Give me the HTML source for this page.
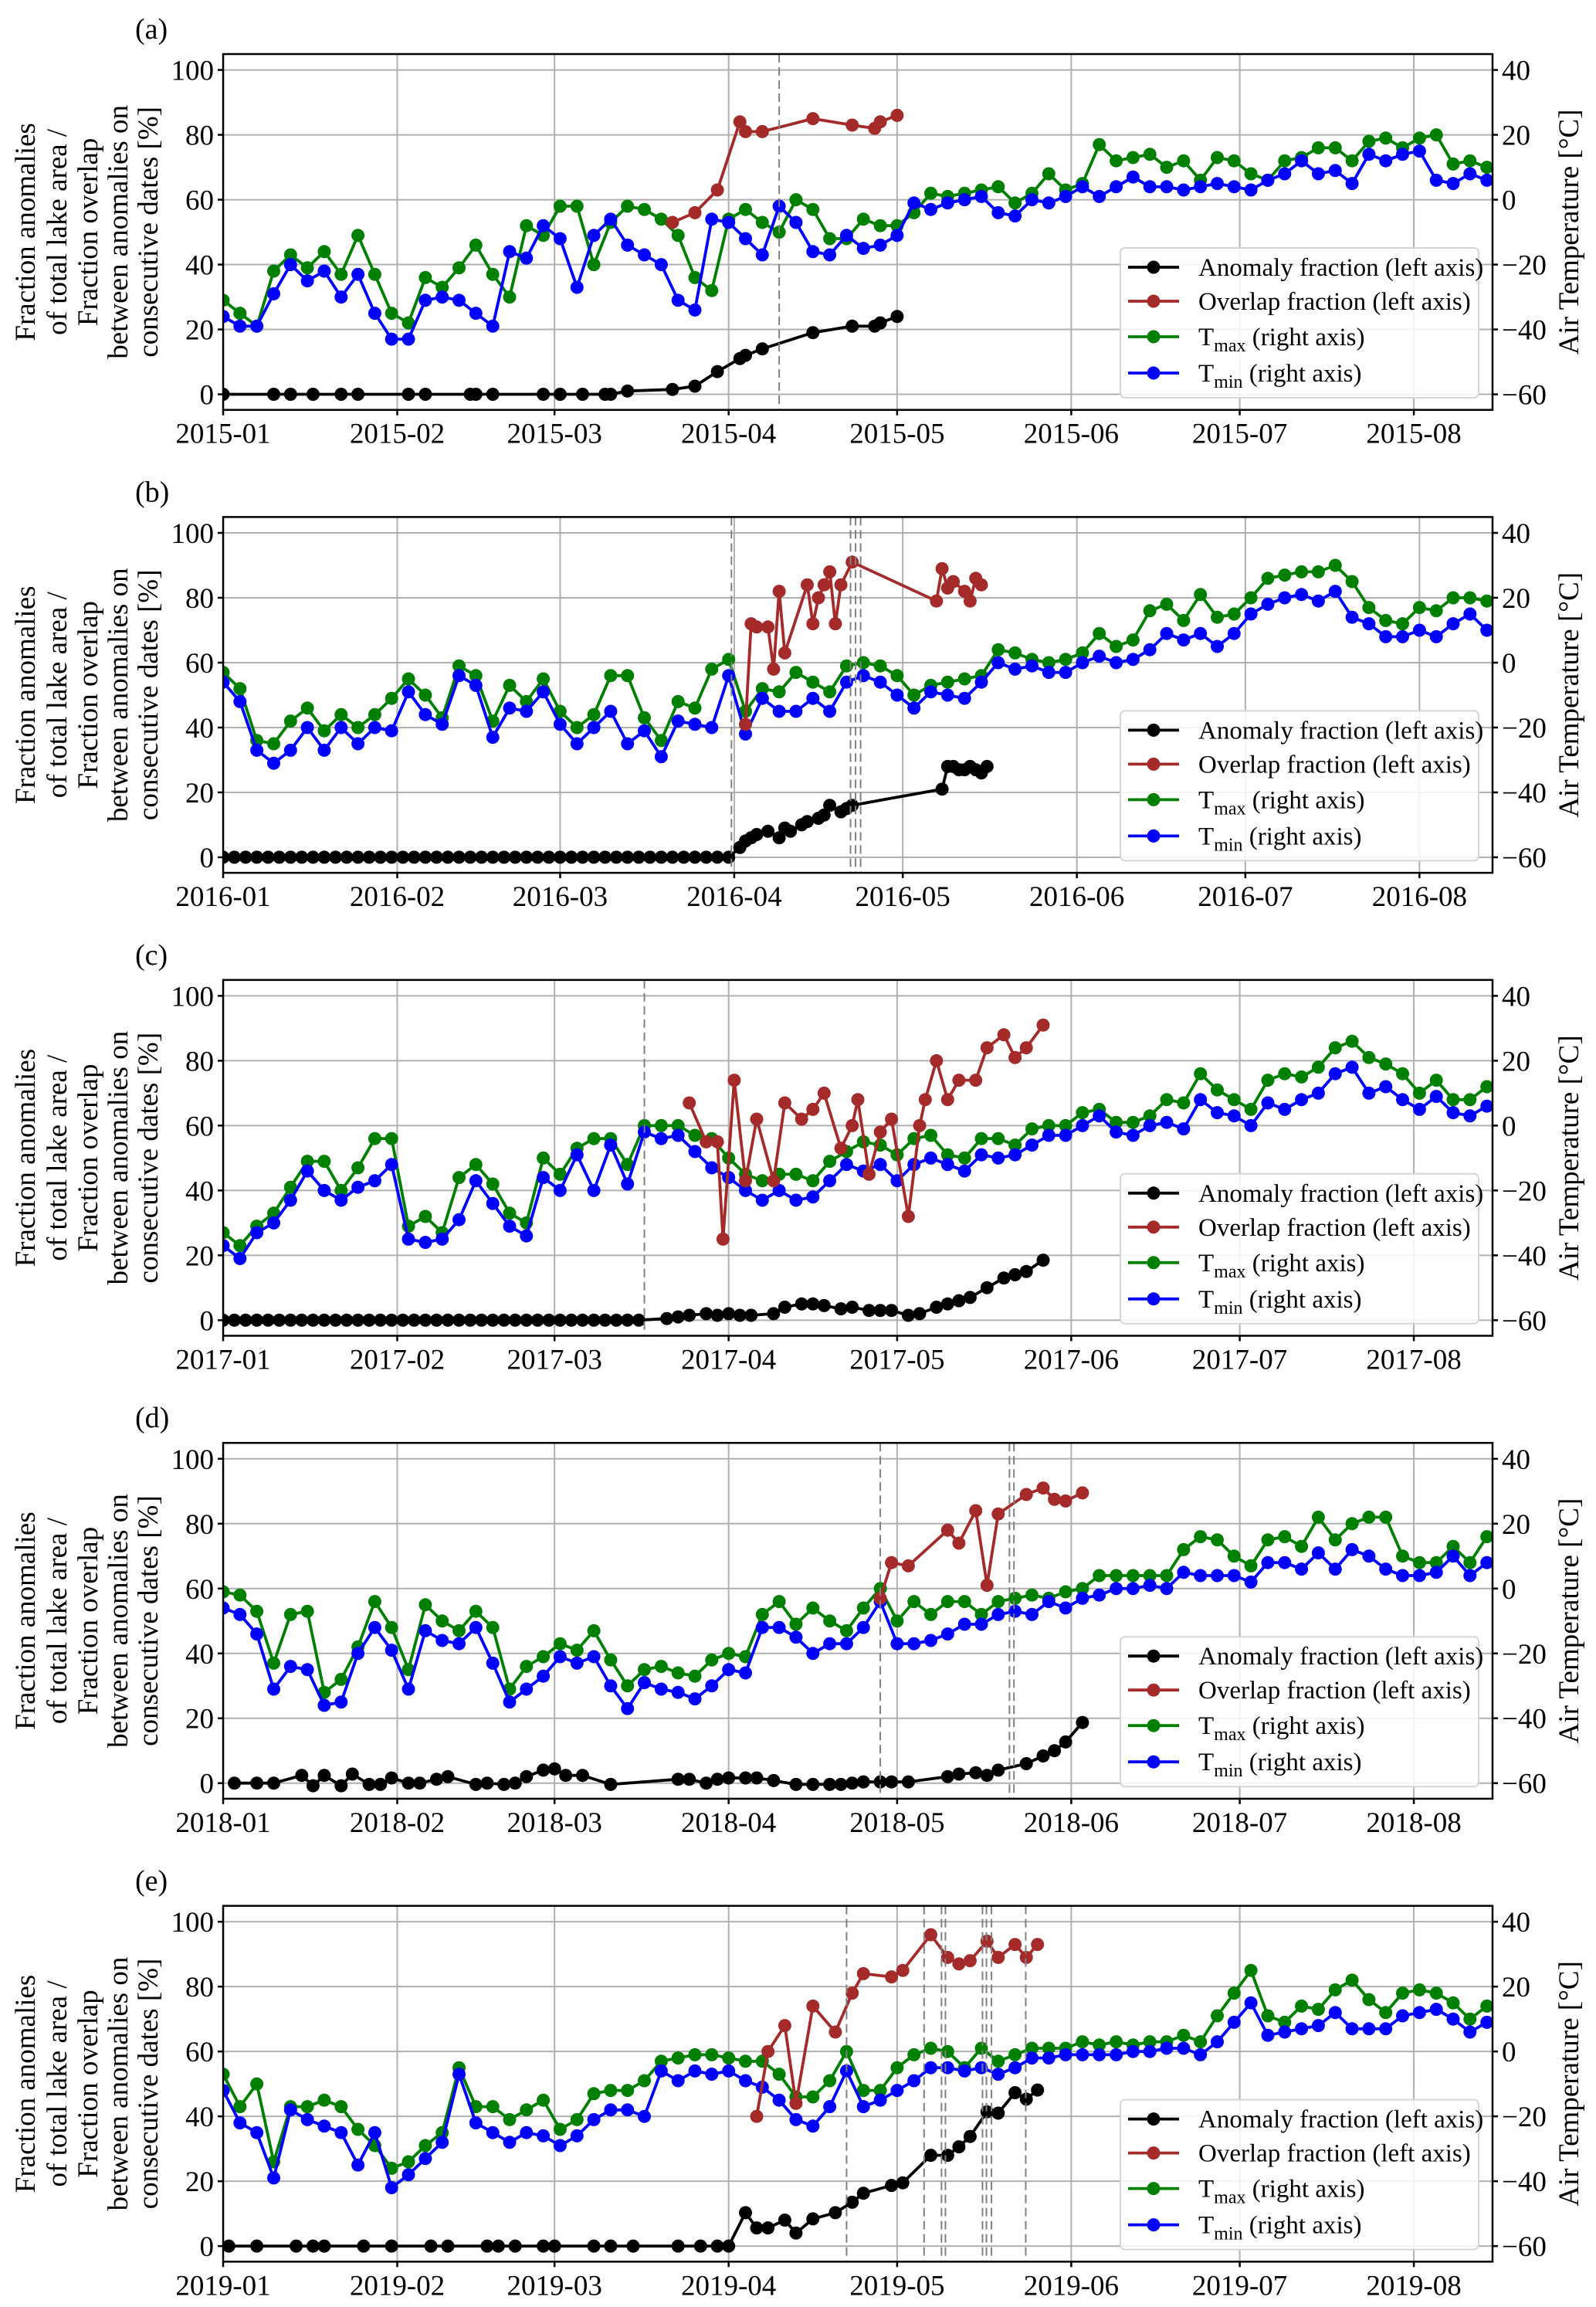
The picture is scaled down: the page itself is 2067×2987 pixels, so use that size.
<!DOCTYPE html>
<html><head><meta charset="utf-8">
<style>
html,body{margin:0;padding:0;background:#fff;}
svg{display:block;font-family:"Liberation Serif","DejaVu Serif",serif;}
</style></head>
<body>
<svg id="fig" width="2067" height="2987" viewBox="0 0 2067 2987" xmlns="http://www.w3.org/2000/svg"></svg>
<script>
// ---------- shared data ----------
const years = [2015, 2016, 2017, 2018, 2019];
const panelLabels = ["(a)", "(b)", "(c)", "(d)", "(e)"];
const monthTicks = ["01","02","03","04","05","06","07","08"];
const leftTicks = [0, 20, 40, 60, 80, 100];
const rightTicks = [-60, -40, -20, 0, 20, 40];
const tempDays = [0,3,6,9,12,15,18,21,24,27,30,33,36,39,42,45,48,51,54,57,60,63,66,69,72,75,78,81,84,87,90,93,96,99,102,105,108,111,114,117,120,123,126,129,132,135,138,141,144,147,150,153,156,159,162,165,168,171,174,177,180,183,186,189,192,195,198,201,204,207,210,213,216,219,222,225];

// ---------- panel (a) 2015 ----------
const tmaxA = [-31,-35,-39,-22,-17,-21,-16,-23,-11,-23,-35,-38,-24,-27,-21,-14,-23,-30,-8,-11,-2,-2,-20,-7,-2,-3,-6,-11,-24,-28,-6,-3,-7,-10,0,-3,-12,-12,-6,-8,-8,-4,2,1,2,3,4,-1,2,8,3,5,17,12,13,14,10,12,6,13,12,8,6,12,13,16,16,12,18,19,16,19,20,11,12,10];
const tminA = [-36,-39,-39,-29,-20,-25,-22,-30,-23,-35,-43,-43,-31,-30,-31,-35,-39,-16,-18,-8,-12,-27,-11,-6,-14,-17,-20,-31,-34,-6,-7,-12,-17,-2,-7,-16,-17,-11,-15,-14,-11,-1,-3,-1,0,1,-4,-5,0,-1,1,4,1,4,7,4,4,3,4,5,4,3,6,8,12,8,9,5,14,12,14,15,6,5,8,6];
const anomDaysA = [0,9,12,16,21,24,33,36,44,45,48,57,60,64,68,69,72,80,84,88,92,93,96,105,112,116,117,120];
const anomA = [0,0,0,0,0,0,0,0,0,0,0,0,0,0,0,0,1,1.5,2.5,7,11,12,14,19,21,21,22,24];
const overDaysA = [80,84,88,92,93,96,105,112,116,117,120];
const overA = [53,56,63,84,81,81,85,83,82,84,86];
const vlinesA = [99];

// ---------- panel (b) 2016 ----------
const tmaxB = [-3,-8,-24,-25,-18,-14,-21,-16,-20,-16,-11,-5,-10,-17,-1,-4,-18,-7,-12,-5,-15,-20,-16,-4,-4,-17,-24,-12,-14,-2,1,-15,-8,-9,-3,-6,-9,-1,0,-1,-4,-10,-7,-6,-5,-4,4,3,1,0,1,3,9,5,7,16,18,13,21,14,15,20,26,27,28,28,30,25,17,13,12,17,16,20,20,19];
const tminB = [-6,-12,-27,-31,-27,-20,-27,-20,-25,-20,-21,-9,-16,-19,-4,-7,-23,-14,-15,-9,-19,-25,-20,-15,-25,-21,-29,-18,-19,-20,-4,-22,-11,-15,-15,-11,-15,-6,-4,-6,-10,-14,-9,-10,-11,-6,0,-2,-1,-3,-3,0,2,0,1,4,9,7,9,5,9,15,18,20,21,19,22,14,12,8,8,10,8,12,15,10];
const anomDaysB = [0,2,4,6,8,10,12,14,16,18,20,22,24,26,28,30,32,34,36,38,40,42,44,46,48,50,52,54,56,58,60,62,64,66,68,70,72,74,76,78,80,82,84,86,88,90,92,93,94,95,97,99,100,101,103,104,106,107,108,110,111,112,128,129,130,131,132,133,134,135,136];
const anomB = [0,0,0,0,0,0,0,0,0,0,0,0,0,0,0,0,0,0,0,0,0,0,0,0,0,0,0,0,0,0,0,0,0,0,0,0,0,0,0,0,0,0,0,0,0,0,3,5,6,7,8,6,9,8,10,11,12,13,16,14,15,16,21,28,28,27,27,28,27,26,28];
const overDaysB = [93,94,95,97,98,99,100,104,105,106,107,108,109,110,112,127,128,129,130,132,133,134,135];
const overB = [41,72,71,71,58,82,63,84,72,80,84,88,72,84,91,79,89,83,85,82,79,86,84];
const vlinesB = [90.5,111.7,112.6,113.5];

// ---------- panel (c) 2017 ----------
const tmaxC = [-33,-37,-31,-27,-19,-11,-11,-20,-13,-4,-4,-31,-28,-33,-16,-12,-18,-27,-30,-10,-15,-7,-4,-4,-12,0,0,0,-3,-4,-10,-15,-17,-15,-15,-17,-11,-8,-5,-6,-9,-4,-3,-9,-10,-4,-4,-6,-1,0,0,4,5,1,1,3,8,7,16,11,8,5,14,16,15,18,24,26,21,19,16,10,14,8,8,12];
const tminC = [-37,-41,-33,-30,-23,-14,-20,-23,-19,-17,-12,-35,-36,-35,-29,-17,-24,-31,-34,-16,-20,-9,-20,-6,-18,-2,-4,-3,-8,-13,-16,-20,-23,-20,-23,-22,-17,-12,-14,-12,-17,-12,-10,-12,-14,-9,-10,-9,-6,-3,-3,0,3,-2,-3,0,1,-1,8,4,3,0,7,5,8,10,16,18,10,12,8,5,9,4,3,6];
const anomDaysC = [0,2,4,6,8,10,12,14,16,18,20,22,24,26,28,30,32,34,36,38,40,42,44,46,48,50,52,54,56,58,60,62,64,66,68,70,72,74,79,81,83,86,88,90,92,94,98,100,103,105,107,110,112,115,117,119,122,124,127,129,131,133,136,139,141,143,146];
const anomC = [0,0,0,0,0,0,0,0,0,0,0,0,0,0,0,0,0,0,0,0,0,0,0,0,0,0,0,0,0,0,0,0,0,0,0,0,0,0,0.5,1,1.5,2,1.5,2,1.5,1.5,2,4,5,5,4.5,3.5,4,3,3,3,1.5,2,4,5,6,7,10,13,14,15,18.5];
const overDaysC = [83,86,88,89,91,93,95,98,100,103,105,107,110,112,113,115,117,119,122,124,125,127,129,131,134,136,139,141,143,146];
const overC = [67,55,55,25,74,43,62,43,67,62,65,70,53,60,68,45,58,62,32,60,68,80,68,74,74,84,88,81,84,91];
const vlinesC = [75];

// ---------- panel (d) 2018 ----------
const tmaxD = [-1,-2,-7,-23,-8,-7,-32,-28,-18,-4,-12,-25,-5,-10,-13,-7,-12,-31,-24,-21,-17,-19,-13,-22,-30,-25,-24,-26,-27,-22,-20,-21,-8,-4,-11,-6,-10,-13,-6,0,-10,-4,-8,-4,-4,-8,-4,-3,-2,-3,-1,0,4,4,4,4,4,12,16,15,10,7,15,16,13,22,15,20,22,22,10,8,8,13,8,16];
const tminD = [-6,-8,-14,-31,-24,-25,-36,-35,-20,-12,-19,-31,-13,-16,-17,-12,-23,-35,-31,-27,-21,-23,-21,-30,-37,-29,-31,-32,-34,-30,-25,-26,-12,-12,-15,-20,-17,-17,-12,-4,-17,-17,-16,-14,-11,-11,-8,-7,-8,-4,-6,-3,-2,0,0,1,0,5,4,4,4,2,8,8,6,11,6,12,10,6,4,4,5,10,4,8];
const anomDaysD = [2,6,9,14,16,18,21,23,26,28,30,33,35,38,40,45,47,50,52,54,57,59,61,64,69,81,83,86,88,90,93,95,98,102,105,108,110,112,114,117,119,122,129,131,134,136,138,143,146,148,150,153];
const anomD = [0,0,0,2.4,-0.8,2.4,-0.8,2.8,-0.4,-0.4,1.6,0,0,1.2,2,-0.4,0,-0.4,0,2,4,4.4,2.4,2.4,-0.4,1.2,1.2,0,1.2,1.6,1.6,1.6,0.8,-0.4,-0.4,-0.4,-0.4,0,0.4,0.4,0.4,0.4,2,2.8,3.2,2.4,4,6,8.4,10,12.7,18.7];
const overDaysD = [117,119,122,129,131,134,136,138,143,146,148,150,153];
const overD = [57,68,67,78,74,84,61,83,89,91,87.5,87,89.5];
const vlinesD = [117,140,140.8];

// ---------- panel (e) 2019 ----------
const tmaxE = [-7,-17,-10,-34,-17,-17,-15,-17,-24,-29,-36,-34,-29,-25,-5,-17,-17,-21,-18,-15,-24,-21,-13,-12,-12,-9,-3,-2,-1,-1,-2,-3,-3,-7,-14,-14,-9,0,-12,-12,-5,-1,1,0,-5,1,-3,-1,1,1,1,3,2,3,2,3,3,5,3,11,18,25,11,9,14,13,19,22,16,12,18,19,18,15,10,14];
const tminE = [-12,-22,-25,-39,-18,-21,-23,-25,-35,-25,-42,-38,-33,-28,-7,-22,-25,-28,-25,-26,-29,-26,-21,-18,-18,-20,-6,-9,-6,-7,-6,-9,-11,-15,-21,-23,-17,-6,-17,-15,-12,-9,-5,-5,-6,-5,-7,-5,-2,-2,-1,-1,-1,-1,0,0,1,1,-1,3,9,15,5,6,7,8,12,7,7,7,11,12,13,10,6,9];
const anomDaysE = [1,6,13,16,18,25,30,37,40,47,49,52,57,59,66,69,73,81,85,88,90,93,95,97,100,102,105,109,112,114,119,121,126,129,131,133,136,138,141,143,145];
const anomE = [0,0,0,0,0,0,0,0,0,0,0,0,0,0,0,0,0,0,0,0,0,10.3,5.6,5.6,8,4,8.4,10.3,13.5,16.3,18.7,19.5,28,28,30.6,33.8,41.4,41,47.3,45.3,48.1];
const overDaysE = [95,97,100,102,105,109,112,114,119,121,126,129,131,133,136,138,141,143,145];
const overE = [40,60,68,44,74,66,78,84,83,85,96,89,87,88,94,89,93,89,93];
const vlinesE = [111,124.8,127.9,128.6,135.2,135.9,136.8,142.9];

const panels = [
  {tmax:tmaxA,tmin:tminA,ad:anomDaysA,a:anomA,od:overDaysA,o:overA,v:vlinesA},
  {tmax:tmaxB,tmin:tminB,ad:anomDaysB,a:anomB,od:overDaysB,o:overB,v:vlinesB},
  {tmax:tmaxC,tmin:tminC,ad:anomDaysC,a:anomC,od:overDaysC,o:overC,v:vlinesC},
  {tmax:tmaxD,tmin:tminD,ad:anomDaysD,a:anomD,od:overDaysD,o:overD,v:vlinesD},
  {tmax:tmaxE,tmin:tminE,ad:anomDaysE,a:anomE,od:overDaysE,o:overE,v:vlinesE}
];

// ---------- layout ----------
const NS = "http://www.w3.org/2000/svg";
const svg = document.getElementById("fig");
const X0 = 289, X1 = 1933, PXDAY = 7.274;
const TOP0 = 70, STEP = 599.4, H = 460.7;
const YMIN = -4.8, YMAX = 104.9;

function mk(tag, attrs, parent) {
  const e = document.createElementNS(NS, tag);
  for (const k in attrs) e.setAttribute(k, attrs[k]);
  (parent || svg).appendChild(e);
  return e;
}
const xScale = d => X0 + d * PXDAY;
const yScale = (top, v) => top + (YMAX - v) / (YMAX - YMIN) * H;
const tToLeft = t => t + 60;

function series(g, top, days, vals, color, name, conv) {
  const pts = days.map((d, i) => [xScale(d), yScale(top, conv ? conv(vals[i]) : vals[i])]);
  const pl = mk("polyline", {points: pts.map(p => p[0].toFixed(1) + "," + p[1].toFixed(1)).join(" "),
    fill: "none", stroke: color, "stroke-width": 3.8, "stroke-linejoin": "round"}, g);
  
  
  pts.forEach(p => {
    const c = mk("circle", {cx: p[0].toFixed(1), cy: p[1].toFixed(1), r: 8.5, fill: color}, g);
    
    
  });
}

panels.forEach((P, pi) => {
  const top = TOP0 + pi * STEP, bot = top + H;
  const yr = years[pi];
  const g = mk("g", {});
  
  

  const pl = mk("text", {x: 175, y: top - 20, "font-size": 38, fill: "#000"}, g);
  pl.textContent = panelLabels[pi];
  
  

  const cid = "clip" + pi;
  const cp = mk("clipPath", {id: cid}, g);
  mk("rect", {x: X0, y: top, width: X1 - X0, height: H}, cp);

  const grid = mk("g", {stroke: "#b0b0b0", "stroke-width": 2}, g);
  
  
  leftTicks.forEach(v => mk("line", {x1: X0, x2: X1, y1: yScale(top, v), y2: yScale(top, v)}, grid));
  monthTicks.forEach(m => {
    const d = (Date.UTC(yr, +m - 1, 1) - Date.UTC(yr, 0, 1)) / 86400000;
    mk("line", {x1: xScale(d), x2: xScale(d), y1: top, y2: bot}, grid);
  });

  const dg = mk("g", {"clip-path": "url(#" + cid + ")"}, g);
  series(dg, top, tempDays, P.tmax, "#008000", "tmax", tToLeft);
  series(dg, top, tempDays, P.tmin, "#0000ff", "tmin", tToLeft);
  series(dg, top, P.od, P.o, "#a52a2a", "overlap-fraction");
  series(dg, top, P.ad, P.a, "#000000", "anomaly-fraction");
  P.v.forEach(d => {
    const l = mk("line", {x1: xScale(d), x2: xScale(d), y1: top, y2: bot, stroke: "#808080", "stroke-width": 2, "stroke-dasharray": "11,6"}, dg);
    
    
  });

  const fr = mk("rect", {x: X0, y: top, width: X1 - X0, height: H, fill: "none", stroke: "#000", "stroke-width": 2.5}, g);
  
  

  leftTicks.forEach(v => {
    const y = yScale(top, v);
    mk("line", {x1: X0 - 7, x2: X0, y1: y, y2: y, stroke: "#000", "stroke-width": 2.5}, g);
    const t = mk("text", {x: X0 - 12, y: y + 13, "font-size": 37, "text-anchor": "end"}, g);
    t.textContent = v;
    
    
  });
  rightTicks.forEach(v => {
    const y = yScale(top, tToLeft(v));
    mk("line", {x1: X1, x2: X1 + 7, y1: y, y2: y, stroke: "#000", "stroke-width": 2.5}, g);
    const t = mk("text", {x: X1 + 12, y: y + 13, "font-size": 37}, g);
    t.textContent = (v < 0 ? "\u2212" + (-v) : v);
    
    
  });
  monthTicks.forEach(m => {
    const d = (Date.UTC(yr, +m - 1, 1) - Date.UTC(yr, 0, 1)) / 86400000;
    const x = xScale(d);
    mk("line", {x1: x, x2: x, y1: bot, y2: bot + 7, stroke: "#000", "stroke-width": 2.5}, g);
    const t = mk("text", {x: x, y: bot + 43, "font-size": 37, "text-anchor": "middle"}, g);
    t.textContent = yr + "-" + m;
    
    
  });

  const lines = ["Fraction anomalies", "of total lake area /", "Fraction overlap", "between anomalies on", "consecutive dates [%]"];
  const lxs = [32, 73, 113, 152, 191];
  const cy = top + H / 2;
  lines.forEach((s, i) => {
    const t = mk("text", {x: 0, y: 0, "font-size": 37, "text-anchor": "middle", transform: "translate(" + (lxs[i] + 13) + "," + cy + ") rotate(-90)"}, g);
    t.textContent = s;
    
    
  });
  const rt = mk("text", {x: 0, y: 0, "font-size": 37, "text-anchor": "middle", transform: "translate(2044," + cy + ") rotate(-90)"}, g);
  rt.textContent = "Air Temperature [\u00B0C]";
  
  

  const lg = mk("g", {}, g);
  
  
  mk("rect", {x: 1451, y: top + 251, width: 464, height: 194, rx: 6, fill: "#fff", "fill-opacity": 0.85, stroke: "#d6d6d6", "stroke-width": 2}, lg);
  const entries = [["#000000", "Anomaly fraction (left axis)", null], ["#a52a2a", "Overlap fraction (left axis)", null], ["#008000", "T", "max"], ["#0000ff", "T", "min"]];
  const rows = [276, 320, 366, 413];
  entries.forEach((e, i) => {
    const y = top + rows[i];
    const eg = mk("g", {}, lg);
    
    
    mk("line", {x1: 1461, x2: 1527, y1: y, y2: y, stroke: e[0], "stroke-width": 3.8}, eg);
    mk("circle", {cx: 1494, cy: y, r: 8.5, fill: e[0]}, eg);
    const t = mk("text", {x: 1552, y: y + 11, "font-size": 33}, eg);
    if (e[2]) {
      t.appendChild(document.createTextNode("T"));
      const s = mk("tspan", {"font-size": 24, dy: 8}, t);
      s.textContent = e[2];
      const r = mk("tspan", {dy: -8}, t);
      r.textContent = " (right axis)";
    } else t.textContent = e[1];
  });
});
</script>
</body></html>
